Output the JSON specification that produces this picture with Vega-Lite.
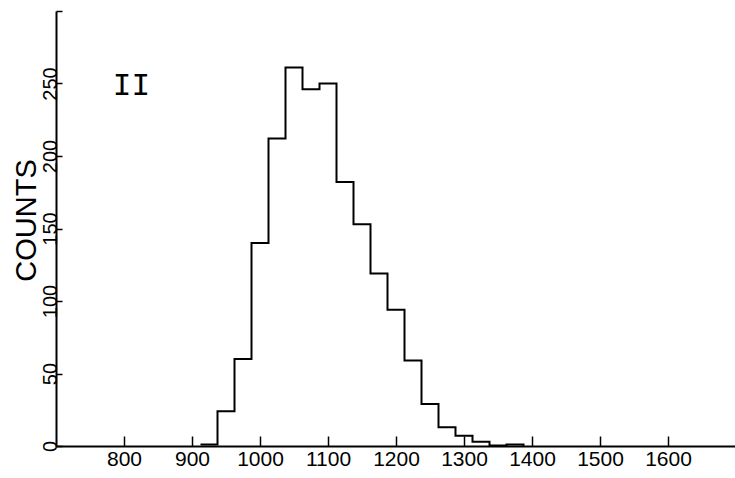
{
  "$schema": "https://vega.github.io/schema/vega-lite/v6.json",
  "width": 680,
  "height": 435,
  "autosize": {"type": "none"},
  "padding": {"left": 56, "top": 11, "right": 0, "bottom": 32},
  "background": "white",
  "config": {
    "view": {"stroke": null},
    "axis": {
      "domainColor": "black",
      "domainWidth": 2,
      "tickColor": "black",
      "tickWidth": 1.5,
      "grid": false,
      "labelColor": "black",
      "labelFont": "Liberation Sans",
      "titleColor": "black"
    }
  },
  "datasets": {
    "hist": [
      {"energy": 912.5, "counts": 1},
      {"energy": 937.5, "counts": 24},
      {"energy": 962.5, "counts": 60},
      {"energy": 987.5, "counts": 140},
      {"energy": 1012.5, "counts": 212},
      {"energy": 1037.5, "counts": 261},
      {"energy": 1062.5, "counts": 246},
      {"energy": 1087.5, "counts": 250},
      {"energy": 1112.5, "counts": 182},
      {"energy": 1137.5, "counts": 153},
      {"energy": 1162.5, "counts": 119},
      {"energy": 1187.5, "counts": 94},
      {"energy": 1212.5, "counts": 59},
      {"energy": 1237.5, "counts": 29},
      {"energy": 1262.5, "counts": 13},
      {"energy": 1287.5, "counts": 7},
      {"energy": 1312.5, "counts": 3},
      {"energy": 1337.5, "counts": 0.4},
      {"energy": 1362.5, "counts": 1},
      {"energy": 1387.5, "counts": 0}
    ],
    "labels": [
      {"energy": 811, "counts": 248, "text": "II"}
    ]
  },
  "layer": [
    {
      "data": {"name": "hist"},
      "mark": {"type": "line", "interpolate": "step-after", "color": "black", "strokeWidth": 2},
      "encoding": {
        "x": {
          "field": "energy", "type": "quantitative",
          "scale": {"domain": [700, 1700], "nice": false, "zero": false},
          "axis": {
            "title": null,
            "format": "d",
            "values": [800, 900, 1000, 1100, 1200, 1300, 1400, 1500, 1600],
            "tickSize": -10,
            "labelPadding": 12,
            "labelFontSize": 21,
            "labelFlush": false
          }
        },
        "y": {
          "field": "counts", "type": "quantitative",
          "scale": {"domain": [0, 300], "nice": false},
          "axis": {
            "title": "COUNTS",
            "titleFont": "Liberation Sans",
            "titleFontSize": 29,
            "titleFontWeight": "normal",
            "titleAngle": -90,
            "titleAlign": "center",
            "titleBaseline": "alphabetic",
            "titleX": -21,
            "titleY": 209,
            "format": "d",
            "values": [0, 50, 100, 150, 200, 250, 300],
            "labelExpr": "datum.value == 300 ? '' : datum.label",
            "tickSize": -6,
            "labelPadding": 6,
            "labelAngle": -90,
            "labelAlign": "center",
            "labelBaseline": "alphabetic",
            "labelFontSize": 20,
            "labelFlush": false
          }
        }
      }
    },
    {
      "data": {"name": "labels"},
      "mark": {"type": "text", "font": "Liberation Mono", "fontSize": 31, "align": "center", "baseline": "middle", "color": "black"},
      "encoding": {
        "x": {"field": "energy", "type": "quantitative"},
        "y": {"field": "counts", "type": "quantitative"},
        "text": {"field": "text"}
      }
    }
  ]
}
